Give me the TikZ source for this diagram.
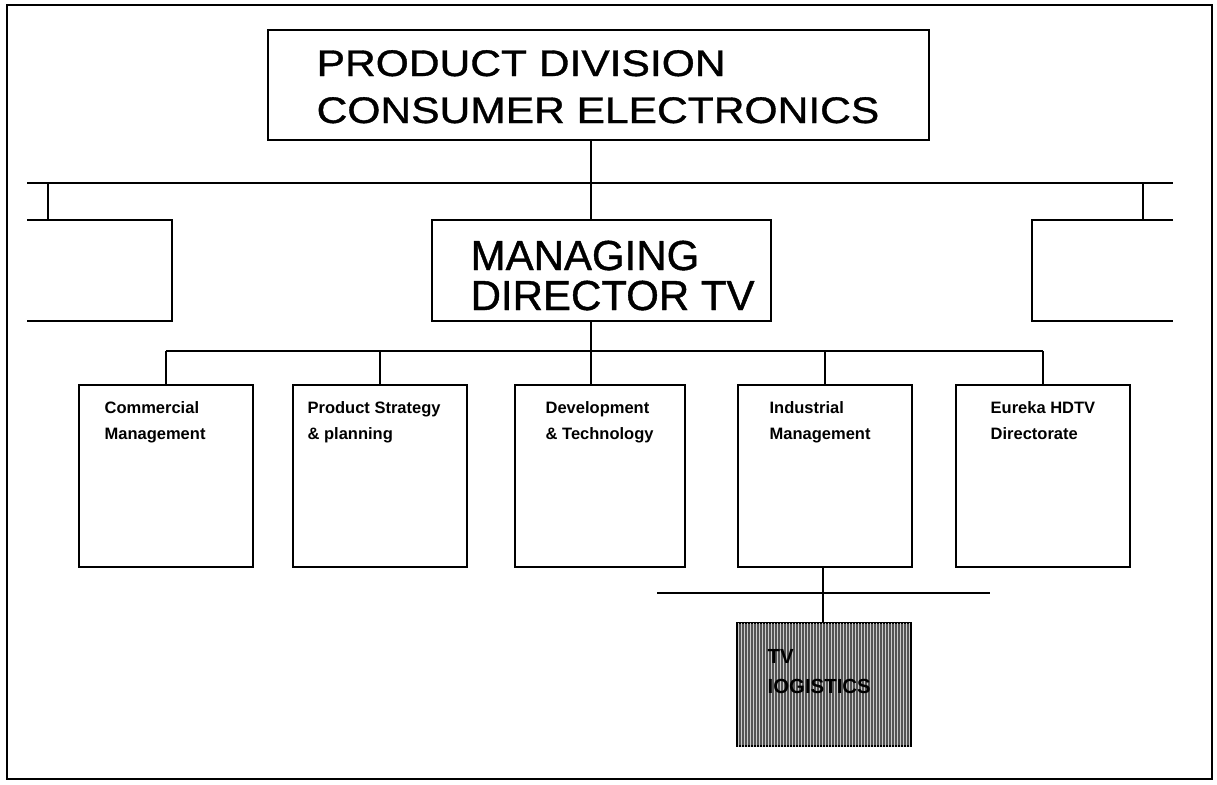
\documentclass[tikz,border=0pt]{standalone}
\usepackage{fontspec}
\setmainfont{Liberation Sans}
\newfontfamily\widesans[FakeStretch=1.15,FakeBold=1]{Liberation Sans}
\newfontfamily\heavysans[FakeBold=1]{Liberation Sans}
\usetikzlibrary{patterns}
\definecolor{shade}{RGB}{84,84,84}
\begin{document}
\begin{tikzpicture}[x=1pt,y=-1pt,
  line width=1.3pt,
  box/.style={draw, line width=1.3pt, inner sep=0pt, outer sep=0pt},
  unit/.style={box, minimum height=182pt},
  titletext/.style={font=\widesans\fontsize{37}{47}\selectfont, align=left, anchor=base west, inner sep=0pt},
  bigtext/.style={font=\heavysans\fontsize{42}{40}\selectfont, align=left, anchor=base west, inner sep=0pt},
  smalltext/.style={font=\fontsize{16.5}{26}\selectfont\bfseries, align=left, anchor=base west, inner sep=0pt},
  link/.style={line width=1.3pt}]
\useasboundingbox (0,0) rectangle (1217,784);
% outer frame
\draw[line width=2.8pt] (7,5) rectangle (1212,779);

% division box (text node anchored at the baseline of its last line)
\node[box, minimum width=661pt, minimum height=110pt] (div) at (598.5,85) {};
\node[titletext] (divtxt) at (316,123) {PRODUCT DIVISION\\CONSUMER ELECTRONICS};

% managing director
\node[box, minimum width=339pt, minimum height=101pt] (md) at (601.5,270.5) {};
\node[bigtext] (mdtxt) at (470,310) {MANAGING\\DIRECTOR TV};

% sibling units, cut off by the frame
\coordinate (lbTop) at (27,220);
\coordinate (lbBot) at (27,321);
\coordinate (rbTop) at (1173,220);
\coordinate (rbBot) at (1173,321);
\draw[link] (lbTop) -- (172,220) -- (172,321) -- (lbBot);
\draw[link] (rbTop) -- (1032,220) -- (1032,321) -- (rbBot);

% upper bus
\coordinate (busL) at (27,183);
\coordinate (busR) at (1173,183);
\coordinate (busM) at (591,183);
\draw[link] (busL) -- (busR);
\draw[link] (div.south -| busM) -- (md.north -| busM);
\draw[link] (48,183) -- (48,220);
\draw[link] (1143,183) -- (1143,220);

% departments
\node[unit, minimum width=174pt] (com) at (166,476) {};
\node[unit, minimum width=174pt] (pro) at (380,476) {};
\node[unit, minimum width=170pt] (dev) at (600,476) {};
\node[unit, minimum width=174pt] (ind) at (825,476) {};
\node[unit, minimum width=174pt] (eur) at (1043,476) {};

\node[smalltext] (comtxt) at (104,439) {Commercial\\Management};
\node[smalltext] (protxt) at (307,439) {Product Strategy\\\& planning};
\node[smalltext] (devtxt) at (545,439) {Development\\\& Technology};
\node[smalltext] (indtxt) at (769,439) {Industrial\\Management};
\node[smalltext] (eurtxt) at (990,439) {Eureka HDTV\\Directorate};

% lower bus
\coordinate (bus2) at (591,351);
\draw[link] (md.south -| bus2) -- (bus2);
\draw[link] (com.north |- bus2) -- (eur.north |- bus2);
\draw[link] (com.north |- bus2) -- (com.north);
\draw[link] (pro.north |- bus2) -- (pro.north);
\draw[link] (bus2) -- (dev.north -| bus2);
\draw[link] (ind.north |- bus2) -- (ind.north);
\draw[link] (eur.north |- bus2) -- (eur.north);

% logistics
\node[box, fill=shade, postaction={pattern=vertical lines, pattern color=gray!40},
      minimum width=174pt, minimum height=123pt] (log) at (824,684.5) {};
\node[font=\fontsize{20.4}{30}\selectfont\bfseries, align=left, anchor=base west, inner sep=0pt]
      (logtxt) at (767,693) {TV\\IOGISTICS};
\coordinate (bus3) at (823,593);
\draw[link] (657,593) -- (990,593);
\draw[link] (ind.south -| bus3) -- (log.north -| bus3);
\end{tikzpicture}
\end{document}
